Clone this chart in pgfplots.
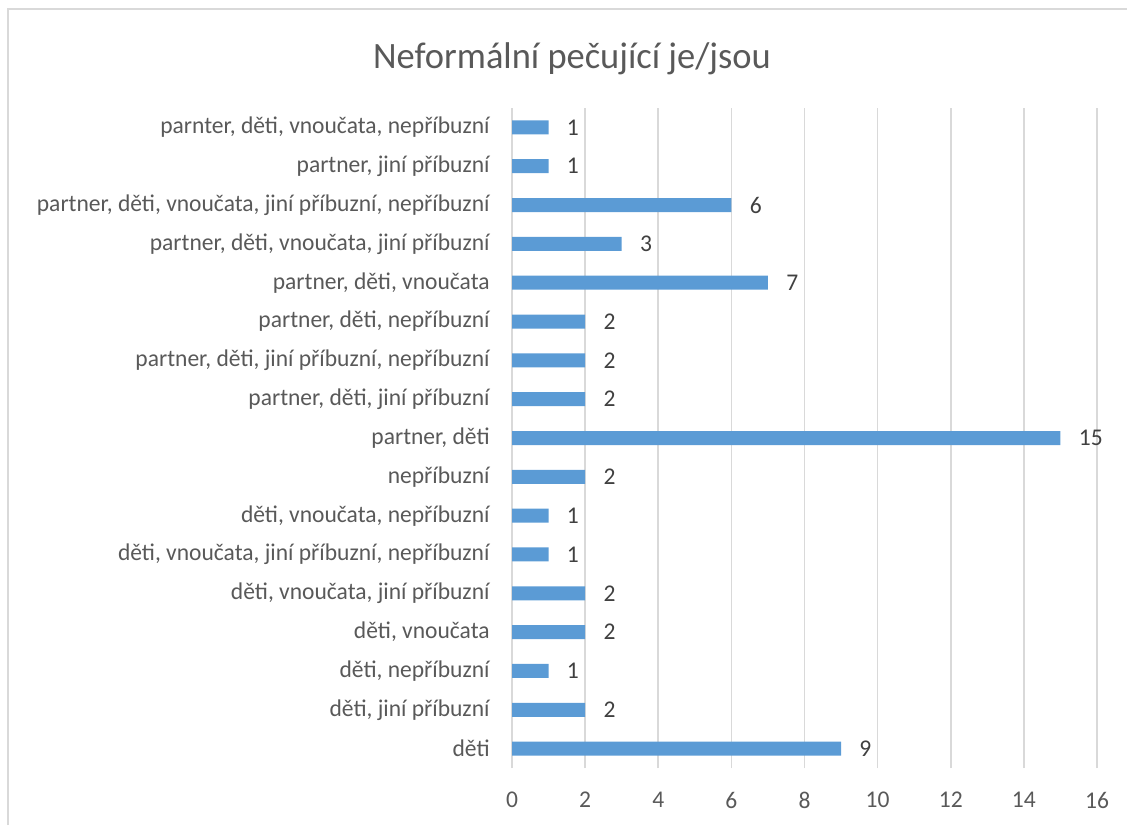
\documentclass[border=0pt]{standalone}
\usepackage{pgfplots}
\pgfplotsset{compat=1.18}
\usepackage{fontspec}
\setmainfont{Carlito}[FakeStretch=0.98]
\definecolor{barblue}{HTML}{5B9BD5}
\definecolor{gridgray}{HTML}{D9D9D9}
\definecolor{txtgray}{HTML}{595959}
\definecolor{lblgray}{HTML}{404040}

\begin{document}
\begin{tikzpicture}
\path[use as bounding box] (0,0) rectangle (563.5pt,412.5pt);
\draw[gridgray, line width=0.8pt] (4pt,0) -- (4pt,408pt) -- (563.5pt,408pt);
\node[txtgray, font=\fontsize{18.6}{22}\selectfont] at (286pt,383pt) {Neformální pečující je/jsou};
\begin{axis}[
    at={(256pt,28.5pt)}, anchor=south west,
    scale only axis, width=292.5pt, height=330pt,
    xbar, bar width=7pt,
    xmin=0, xmax=16, ymin=-0.5, ymax=16.5,
    xtick distance=2,
    ytick={0,...,16},
    yticklabels={{děti},{děti, jiní příbuzní},{děti, nepříbuzní},{děti, vnoučata},
      {děti, vnoučata, jiní příbuzní},{děti, vnoučata, jiní příbuzní, nepříbuzní},
      {děti, vnoučata, nepříbuzní},{nepříbuzní},{partner, děti},
      {partner, děti, jiní příbuzní},{partner, děti, jiní příbuzní, nepříbuzní},
      {partner, děti, nepříbuzní},{partner, děti, vnoučata},
      {partner, děti, vnoučata, jiní příbuzní},
      {partner, děti, vnoučata, jiní příbuzní, nepříbuzní},
      {partner, jiní příbuzní},{parnter, děti, vnoučata, nepříbuzní}},
    axis line style={draw=none},
    major tick length=0pt,
    xmajorgrids, grid style={gridgray, line width=0.8pt},
    /pgf/number format/assume math mode=true,
    tick label style={txtgray, font=\fontsize{12}{14}\selectfont},
    xticklabel style={anchor=center, yshift=-16pt},
    yticklabel style={anchor=east, inner sep=0pt, xshift=-11pt},
    nodes near coords,
    every node near coord/.append style={lblgray, font=\fontsize{12}{14}\selectfont,
      anchor=west, inner sep=0pt, xshift=9pt},
]
\addplot[fill=barblue, draw=none] coordinates {
  (9,0) (2,1) (1,2) (2,3) (2,4) (1,5) (1,6) (2,7) (15,8) (2,9)
  (2,10) (2,11) (7,12) (3,13) (6,14) (1,15) (1,16)};
\end{axis}
\end{tikzpicture}
\end{document}
